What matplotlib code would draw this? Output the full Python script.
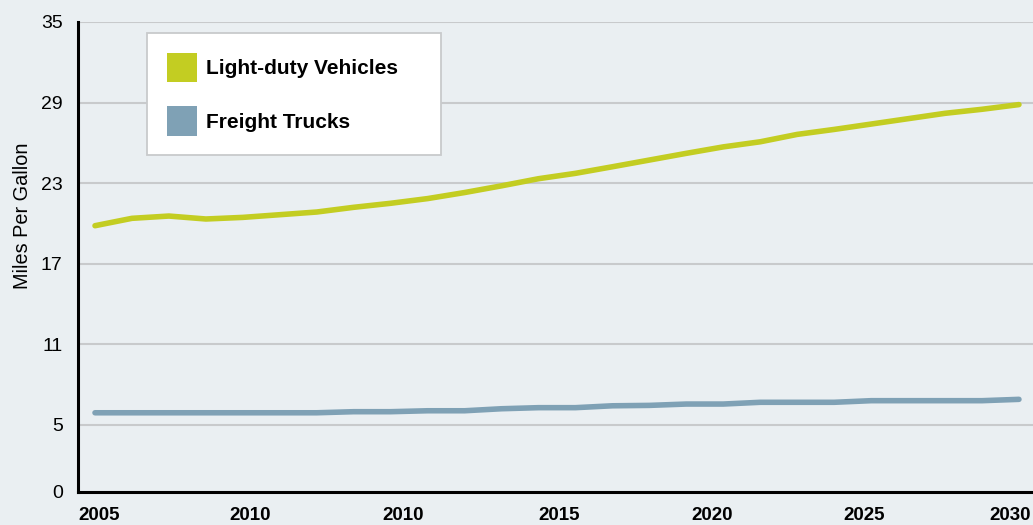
import matplotlib.pyplot as plt
from matplotlib.patches import Patch

plt.rcParams['font.family'] = ['Liberation Sans', 'DejaVu Sans']

# dati (26 punti, 2005-2030)
years = list(range(2005, 2031))
light_duty = [19.83, 20.38, 20.55, 20.33, 20.45, 20.65, 20.85, 21.2, 21.5, 21.85,
              22.3, 22.8, 23.33, 23.73, 24.22, 24.72, 25.22, 25.7, 26.08, 26.63,
              27.0, 27.4, 27.8, 28.2, 28.5, 28.85]
freight = [5.9, 5.9, 5.9, 5.9, 5.9, 5.9, 5.9, 5.98, 5.98, 6.05,
           6.05, 6.2, 6.28, 6.28, 6.42, 6.45, 6.55, 6.55, 6.68, 6.68,
           6.68, 6.8, 6.8, 6.8, 6.8, 6.9]
y_ticks = [0, 5, 11, 17, 23, 29, 35]
x_labels = ['2005', '2010', '2010', '2015', '2020', '2025', '2030']

c_light = '#C3CD22'
c_freight = '#7FA1B5'
bg = '#EAEFF2'

fig = plt.figure(figsize=(10.33, 5.25), dpi=100, facecolor=bg)
ax = fig.add_axes([78 / 1033, 33 / 525, 955 / 1033, 470 / 525], facecolor=bg)

idx = list(range(len(years)))
ax.plot(idx, light_duty, color=c_light, lw=4.0, solid_capstyle='round', solid_joinstyle='round', zorder=3)
ax.plot(idx, freight, color=c_freight, lw=4.0, solid_capstyle='round', solid_joinstyle='round', zorder=3)

ax.set_ylim(0, 35)
ax.set_xlim(-0.46, 25.38)
ax.set_yticks(y_ticks)
ax.set_yticklabels([str(v) for v in y_ticks], fontsize=14)
ax.tick_params(axis='y', length=0, pad=11)
ax.grid(axis='y', color='#C8CACC', lw=1.5, zorder=0)

# etichette anni (posizioni come nel grafico originale)
tick_pos = [0.1, 4.2, 8.35, 12.55, 16.7, 20.8, 24.75]
ax.set_xticks(tick_pos)
ax.set_xticklabels(x_labels, fontsize=13.5, fontweight='bold')
ax.tick_params(axis='x', length=0, pad=11)

for side in ['top', 'right']:
    ax.spines[side].set_visible(False)
for side in ['left', 'bottom']:
    ax.spines[side].set_linewidth(2.2)
    ax.spines[side].set_color('black')
    ax.spines[side].set_zorder(4)

ax.set_ylabel('Miles Per Gallon', fontsize=14.3, va='center')
ax.yaxis.set_label_coords(-0.0586, 0.588)

handles = [Patch(facecolor=c_light, edgecolor='none', label='Light-duty Vehicles'),
           Patch(facecolor=c_freight, edgecolor='none', label='Freight Trucks')]
leg = ax.legend(handles=handles, loc='upper left',
                bbox_to_anchor=(0.0723, 0.717, 0.3079, 0.2596), mode='expand',
                prop={'weight': 'bold', 'size': 15}, frameon=True, fancybox=False,
                handlelength=1.45, handleheight=1.8, handletextpad=0.45,
                labelspacing=1.15, borderpad=0.95, borderaxespad=0)
leg.get_frame().set_edgecolor('#C8CACC')
leg.get_frame().set_linewidth(1.3)
leg.get_frame().set_facecolor('white')
leg.get_frame().set_alpha(1)

fig.savefig('out.png', dpi=100, facecolor=bg)
